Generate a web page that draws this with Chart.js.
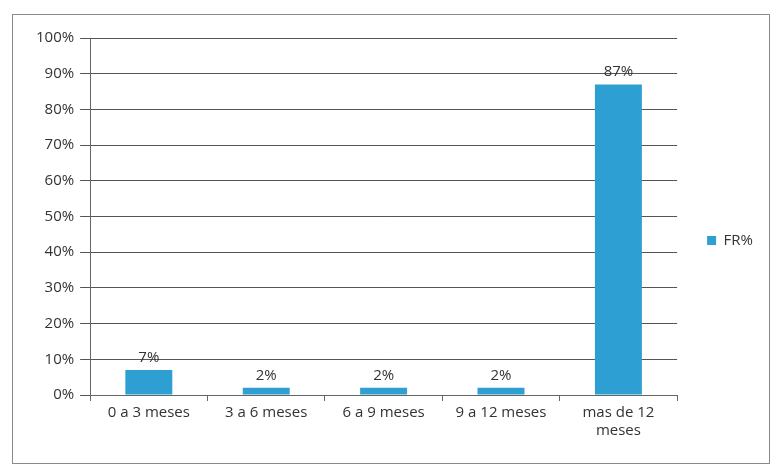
<!DOCTYPE html>
<html>
<head>
<meta charset="utf-8">
<script src="https://cdn.jsdelivr.net/npm/chart.js@4"></script>
<style>
  html, body { margin: 0; padding: 0; background: #fff; }
  #frame {
    position: absolute; left: 12px; top: 14px;
    width: 756px; height: 448px;
    border: 1px solid #8a8a8a;
  }
  #wrap { position: absolute; left: 0; top: 0; width: 777px; height: 474px; }
</style>
</head>
<body>
<div id="frame"></div>
<div id="wrap"><canvas id="barChart" width="777" height="474"></canvas></div>
<script>
const categorias = ['0 a 3 meses', '3 a 6 meses', '6 a 9 meses', '9 a 12 meses', ['mas de 12', 'meses']];
const frPct = [7, 2, 2, 2, 87];
const yTicks = [0, 10, 20, 30, 40, 50, 60, 70, 80, 90, 100];

const fuente = { family: '"Open Sans", sans-serif', size: 15 };

// etiquetas de valor encima de cada barra
const etiquetas = {
  id: 'etiquetas',
  afterDatasetsDraw(chart) {
    const ctx = chart.ctx;
    const meta = chart.getDatasetMeta(0);
    ctx.save();
    ctx.font = '15px "Open Sans", sans-serif';
    ctx.fillStyle = '#333';
    ctx.textAlign = 'center';
    ctx.textBaseline = 'bottom';
    meta.data.forEach((bar, i) => {
      ctx.fillText(frPct[i] + '%', bar.x, bar.y - 5);
    });
    ctx.restore();
  }
};

const ctxBar = document.getElementById('barChart').getContext('2d');
new Chart(ctxBar, {
  type: 'bar',
  data: {
    labels: categorias,
    datasets: [{
      label: 'FR%',
      data: frPct,
      backgroundColor: '#2d9fd2',
      barPercentage: 0.4,
      categoryPercentage: 1
    }]
  },
  options: {
    responsive: false,
    animation: false,
    layout: { padding: { left: 30, top: 38, right: 14, bottom: 31 } },
    plugins: {
      legend: {
        position: 'right',
        labels: {
          boxWidth: 9, boxHeight: 9, padding: 30,
          color: '#333',
          font: fuente
        }
      },
      tooltip: { enabled: false }
    },
    scales: {
      x: {
        grid: { display: true, drawOnChartArea: false, color: '#666', tickLength: 6 },
        border: { color: '#666' },
        ticks: { color: '#333', font: fuente, maxRotation: 0, autoSkip: false }
      },
      y: {
        min: 0, max: 100,
        afterBuildTicks(axis) { axis.ticks = yTicks.map(v => ({ value: v })); },
        grid: { color: '#555', tickLength: 10 },
        border: { color: '#666' },
        ticks: {
          color: '#333', padding: 6,
          font: fuente,
          callback: v => v + '%'
        }
      }
    }
  },
  plugins: [etiquetas]
});
</script>
</body>
</html>
